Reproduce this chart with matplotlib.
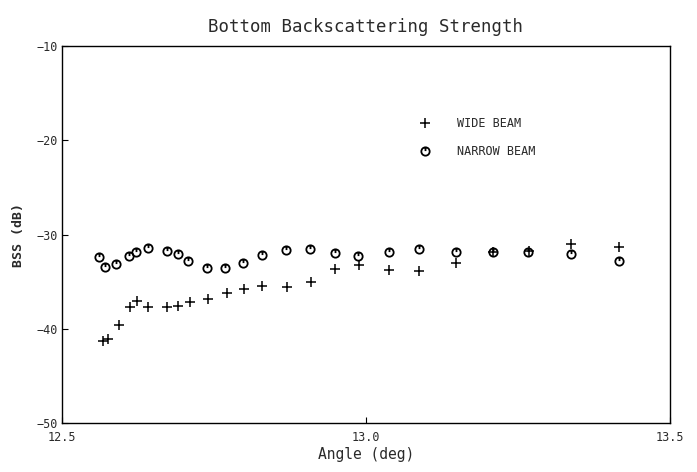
import matplotlib
matplotlib.use("Agg")
import matplotlib.pyplot as plt
from matplotlib.path import Path

# wide beam (+)
wide_angle = [12.567, 12.576, 12.594, 12.612, 12.623, 12.641, 12.673, 12.691,
              12.711, 12.740, 12.771, 12.799, 12.829, 12.870, 12.910, 12.949,
              12.988, 13.038, 13.087, 13.148, 13.209, 13.268, 13.337, 13.416]
wide_bss = [-41.3, -41.1, -39.6, -37.7, -37.1, -37.7, -37.7, -37.6,
            -37.2, -36.8, -36.2, -35.8, -35.5, -35.6, -35.0, -33.7,
            -33.2, -33.8, -33.9, -33.0, -31.9, -31.7, -31.0, -31.3]

# narrow beam (circle)
narrow_angle = [12.561, 12.571, 12.589, 12.610, 12.622, 12.641, 12.673, 12.691,
                12.707, 12.738, 12.768, 12.798, 12.829, 12.868, 12.908, 12.949,
                12.987, 13.038, 13.087, 13.148, 13.209, 13.266, 13.337, 13.416]
narrow_bss = [-32.4, -33.4, -33.1, -32.3, -31.9, -31.4, -31.7, -32.1,
              -32.8, -33.5, -33.5, -33.0, -32.2, -31.6, -31.5, -32.0,
              -32.3, -31.8, -31.5, -31.8, -31.9, -31.8, -32.1, -32.8]

x_ticks = [12.5, 13.0, 13.5]
x_ticklabels = ["12.5", "13.0", "13.5"]
y_ticks = [-50, -40, -30, -20, -10]

mono = "DejaVu Sans Mono"
txt = "#2a2a2a"

# circle with a stroke from the top down to the centre
circ_mark = Path.make_compound_path(
    Path.unit_circle(),
    Path([(0, 1), (0, 0.1)], [Path.MOVETO, Path.LINETO]))

fig = plt.figure(figsize=(6.97, 4.72), dpi=100)
ax = fig.add_axes([0.089, 0.104, 0.872, 0.798])

ax.plot(wide_angle, wide_bss, ls="none", marker="+", ms=7, mew=1.1,
        color="black", label="WIDE BEAM")
ax.plot(narrow_angle, narrow_bss, ls="none", marker=circ_mark, ms=6, mew=1.3,
        mfc="none", mec="black", label="NARROW BEAM")

ax.set_xlim(12.5, 13.5)
ax.set_ylim(-50, -10)
ax.set_xticks(x_ticks)
ax.set_xticklabels(x_ticklabels)
ax.set_yticks(y_ticks)
ax.tick_params(direction="in", length=4, width=0.8, labelsize=8.5, colors="black",
               labelcolor=txt)
ax.tick_params(axis="x", pad=6)
ax.tick_params(axis="y", pad=3)
for lab in ax.get_xticklabels() + ax.get_yticklabels():
    lab.set_family(mono)
for sp in ax.spines.values():
    sp.set_linewidth(1.0)

ax.set_title("Bottom Backscattering Strength", family=mono, fontsize=12.5,
             color=txt, pad=10)
ax.set_xlabel("Angle (deg)", family=mono, fontsize=10.5, color=txt, labelpad=2)
ax.set_ylabel("BSS (dB)", family=mono, fontsize=9.5, color=txt, labelpad=8,
              fontweight="bold")

leg = ax.legend(loc="upper left", bbox_to_anchor=(0.565, 0.84), frameon=False,
                prop={"family": mono, "size": 8.5}, labelspacing=1.3,
                handletextpad=2.0, handlelength=1.5, numpoints=1)
for t in leg.get_texts():
    t.set_color(txt)

fig.savefig("out.png", dpi=100)
